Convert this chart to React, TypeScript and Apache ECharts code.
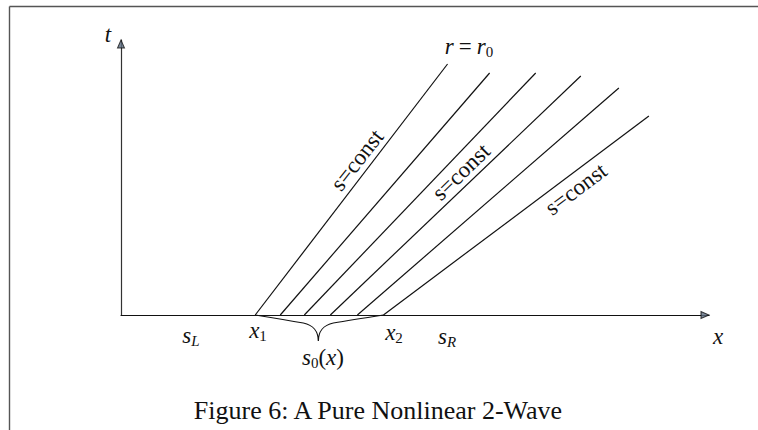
import React, { useEffect, useRef } from "react";
import * as echarts from "echarts";

// characteristic lines s=const: start on the x-axis, end in the (x,t) plane
const startX = [2.68, 3.18, 3.66, 4.18, 4.72, 5.24];
const endX = [6.52, 7.36, 8.28, 9.18, 9.94, 10.54];
const endY = [5.02, 4.84, 4.84, 4.78, 4.54, 3.98];
const xMax = 11.74;
const yMax = 5.5;
const caption = "Figure 6: A Pure Nonlinear 2-Wave";
const constLabel = "s=const";

const SERIF = "Liberation Serif";
const INK = "#111";

const mathRich = {
  i: { fontFamily: SERIF, fontStyle: "italic", fontSize: 23, lineHeight: 26, color: INK },
  n: { fontFamily: SERIF, fontSize: 23, lineHeight: 26, color: INK },
  eq: { fontFamily: SERIF, fontSize: 23, lineHeight: 26, color: INK, padding: [0, 5, 0, 5] },
  sub: { fontFamily: SERIF, fontStyle: "italic", fontSize: 15, lineHeight: 12, verticalAlign: "bottom", color: INK },
  subn: { fontFamily: SERIF, fontSize: 15, lineHeight: 12, verticalAlign: "bottom", color: INK },
};

function mathText(x: number, y: number, text: string) {
  return {
    type: "text",
    x,
    y,
    silent: true,
    style: {
      text,
      rich: mathRich,
      align: "center",
      verticalAlign: "middle",
      fontFamily: SERIF,
      fontSize: 23,
      fill: INK,
    },
  };
}

function rotText(x: number, y: number, deg: number) {
  return {
    type: "text",
    x,
    y,
    rotation: (deg * Math.PI) / 180,
    silent: true,
    style: {
      text: constLabel,
      align: "center",
      verticalAlign: "middle",
      fontFamily: SERIF,
      fontSize: 23,
      fill: INK,
    },
  };
}

export default function App() {
  const ref = useRef<HTMLDivElement>(null);

  useEffect(() => {
    document.body.style.margin = "0";
    if (!ref.current) return;
    const chart = echarts.init(ref.current, null, { renderer: "svg" });

    const lineSeries = startX.map((sx, i) => ({
      type: "line",
      data: [
        [sx, 0],
        [endX[i], endY[i]],
      ],
      symbol: "none",
      silent: true,
      lineStyle: { color: INK, width: 1.2 },
      z: 3,
    }));

    chart.setOption({
      animation: false,
      grid: { left: 121, right: 49, top: 40, bottom: 115 },
      xAxis: {
        type: "value",
        min: 0,
        max: xMax,
        axisLine: { show: true, onZero: false, lineStyle: { color: INK, width: 1.2 } },
        axisTick: { show: false },
        axisLabel: { show: false },
        splitLine: { show: false },
      },
      yAxis: {
        type: "value",
        min: 0,
        max: yMax,
        axisLine: { show: true, onZero: false, lineStyle: { color: "#333", width: 1.2 } },
        axisTick: { show: false },
        axisLabel: { show: false },
        splitLine: { show: false },
      },
      series: [
        ...lineSeries,
        {
          type: "custom",
          clip: false,
          silent: true,
          data: [[startX[0], startX[startX.length - 1]]],
          renderItem: (params: any, api: any) => {
            const a = api.coord([api.value(0), 0]);
            const b = api.coord([api.value(1), 0]);
            const L = a[0];
            const R = b[0];
            const y0 = a[1];
            const m = (L + R) / 2 - 1;
            const d =
              `M${L} ${y0} Q${m - 32} ${y0 + 5} ${m - 15} ${y0 + 8} ` +
              `C${m - 5} ${y0 + 10} ${m} ${y0 + 17} ${m} ${y0 + 26} ` +
              `C${m} ${y0 + 17} ${m + 5} ${y0 + 10} ${m + 15} ${y0 + 8} ` +
              `Q${m + 32} ${y0 + 5} ${R} ${y0}`;
            return {
              type: "path",
              shape: { pathData: d },
              style: { fill: "none", stroke: INK, lineWidth: 1.2 },
            };
          },
          z: 3,
        },
        {
          type: "scatter",
          clip: false,
          silent: true,
          data: [[xMax, 0]],
          symbol: "triangle",
          symbolSize: [7, 8],
          symbolRotate: -90,
          symbolOffset: [-4, 0],
          itemStyle: { color: "#5b6b80", borderColor: "#111", borderWidth: 1 },
          z: 5,
        },
        {
          type: "scatter",
          clip: false,
          silent: true,
          data: [[0, yMax]],
          symbol: "triangle",
          symbolSize: [7, 8],
          symbolOffset: [0, 4],
          itemStyle: { color: "#5b6b80", borderColor: "#111", borderWidth: 1 },
          z: 5,
        },
      ],
      graphic: [
        {
          type: "line",
          silent: true,
          shape: { x1: 9.5, y1: 6.5, x2: 758, y2: 6.5 },
          style: { stroke: "#555", lineWidth: 1.4 },
        },
        {
          type: "line",
          silent: true,
          shape: { x1: 9.5, y1: 6.5, x2: 9.5, y2: 430 },
          style: { stroke: "#555", lineWidth: 1.4 },
        },
        mathText(108, 34, "{i|t}"),
        mathText(718, 336, "{i|x}"),
        mathText(191, 335, "{i|s}{sub|L}"),
        mathText(258, 330, "{i|x}{subn|1}"),
        mathText(394, 332, "{i|x}{subn|2}"),
        mathText(447, 336, "{i|s}{sub|R}"),
        mathText(323, 357, "{i|s}{subn|0}{n|(}{i|x}{n|)}"),
        mathText(469, 46, "{i|r}{eq|=}{i|r}{subn|0}"),
        rotText(357, 160, 52),
        rotText(461, 172, 44),
        rotText(576, 189, 37),
        {
          type: "text",
          x: 378,
          y: 410,
          silent: true,
          style: {
            text: caption,
            align: "center",
            verticalAlign: "middle",
            fontFamily: SERIF,
            fontSize: 26,
            fill: INK,
          },
        },
      ],
    });

    return () => chart.dispose();
  }, []);

  return <div ref={ref} style={{ width: 758, height: 430, overflow: "hidden" }} />;
}
